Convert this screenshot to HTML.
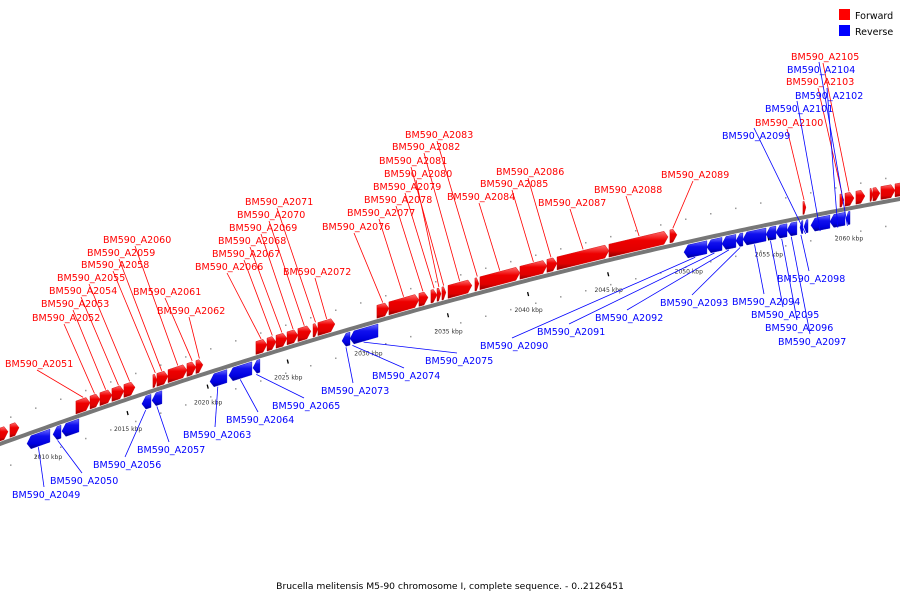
<!DOCTYPE html>
<html><head><meta charset="utf-8"><style>
body{margin:0;background:#fff;}
svg{display:block;font-family:"DejaVu Sans","Liberation Sans",sans-serif;}
</style></head><body>
<svg id="chart" width="900" height="600" viewBox="0 0 900 600">
<defs>
<linearGradient id="gr" x1="0" y1="0" x2="0" y2="1"><stop offset="0" stop-color="#ff7070"/><stop offset="0.35" stop-color="#ee0000"/><stop offset="0.75" stop-color="#e00000"/><stop offset="1" stop-color="#8a0000"/></linearGradient>
<linearGradient id="gb" x1="0" y1="0" x2="0" y2="1"><stop offset="0" stop-color="#7070ff"/><stop offset="0.35" stop-color="#1010ee"/><stop offset="0.75" stop-color="#0000e0"/><stop offset="1" stop-color="#00008a"/></linearGradient>
</defs>
<g id="ticks"></g>
<path id="backbone" fill="none" stroke="#777" stroke-width="4"></path>
<g id="genes"></g>
<g id="labels"></g>
<g>
<rect x="839" y="9" width="11" height="11" fill="#f00"/>
<text x="855" y="19" font-size="9.5" fill="#000">Forward</text>
<rect x="839" y="25" width="11" height="11" fill="#00f"/>
<text x="855" y="35" font-size="9.5" fill="#000">Reverse</text>
</g>
<text x="450" y="589" text-anchor="middle" font-size="9.2" fill="#000">Brucella melitensis M5-90 chromosome I, complete sequence. - 0..2126451</text>
</svg>
<script>
const fwdStart=[2007.00,2007.62,2011.74,2012.62,2013.24,2013.99,2014.74,2016.55,2016.80,2017.49,2018.67,2019.23,2022.98,2023.67,2024.23,2024.92,2025.60,2026.54,2026.85,2030.53,2031.28,2033.15,2033.90,2034.28,2034.59,2034.97,2036.65,2036.96,2039.46,2041.14,2041.77,2045.01,2048.82,2057.12,2059.43,2059.75,2060.43,2061.31,2061.49,2061.99,2062.87];
const fwdEnd=[2007.50,2008.19,2012.62,2013.24,2013.99,2014.74,2015.43,2016.80,2017.49,2018.67,2019.23,2019.67,2023.67,2024.23,2024.92,2025.60,2026.41,2026.85,2027.91,2031.28,2033.15,2033.72,2034.28,2034.53,2034.84,2036.46,2036.90,2039.46,2041.14,2041.77,2045.01,2048.70,2049.26,2057.31,2059.68,2060.31,2060.99,2061.49,2061.93,2062.87,2063.60];
const revStart=[2008.69,2010.31,2010.87,2015.86,2016.49,2020.11,2021.29,2022.79,2028.35,2028.85,2049.70,2051.13,2052.07,2052.94,2053.38,2054.82,2055.44,2056.13,2056.94,2057.19,2057.62,2058.81,2059.81];
const revEnd=[2010.12,2010.81,2011.93,2016.43,2017.11,2021.17,2022.73,2023.23,2028.85,2030.60,2051.13,2052.07,2052.94,2053.38,2054.82,2055.44,2056.13,2056.75,2057.12,2057.44,2058.81,2059.75,2060.06];
const tickKbp=[2010,2015,2020,2025,2030,2035,2040,2045,2050,2055,2060];
const labelText=["BM590_A2051","BM590_A2052","BM590_A2053","BM590_A2054","BM590_A2055","BM590_A2058","BM590_A2059","BM590_A2060","BM590_A2061","BM590_A2062","BM590_A2066","BM590_A2067","BM590_A2068","BM590_A2069","BM590_A2070","BM590_A2071","BM590_A2072","BM590_A2076","BM590_A2077","BM590_A2078","BM590_A2079","BM590_A2080","BM590_A2081","BM590_A2082","BM590_A2083","BM590_A2084","BM590_A2085","BM590_A2086","BM590_A2087","BM590_A2088","BM590_A2089","BM590_A2100","BM590_A2103","BM590_A2105",
"BM590_A2049","BM590_A2050","BM590_A2056","BM590_A2057","BM590_A2063","BM590_A2064","BM590_A2065","BM590_A2073","BM590_A2074","BM590_A2075","BM590_A2090","BM590_A2091","BM590_A2092","BM590_A2093","BM590_A2094","BM590_A2095","BM590_A2096","BM590_A2097","BM590_A2098","BM590_A2099","BM590_A2101","BM590_A2102","BM590_A2104"];
const labelStrand=[1,1,1,1,1,1,1,1,1,1,1,1,1,1,1,1,1,1,1,1,1,1,1,1,1,1,1,1,1,1,1,1,1,1,
-1,-1,-1,-1,-1,-1,-1,-1,-1,-1,-1,-1,-1,-1,-1,-1,-1,-1,-1,-1,-1,-1,-1];
const labelTarget=[2012.2,2012.9,2013.6,2014.4,2015.1,2016.7,2017.1,2018.1,2019.0,2019.45,2023.3,2024.0,2024.6,2025.3,2026.0,2026.7,2027.4,2030.9,2032.2,2033.4,2034.1,2034.4,2034.7,2035.7,2036.8,2038.2,2040.3,2041.4,2043.4,2046.9,2049.0,2057.2,2059.55,2060.0,
2009.4,2010.6,2016.1,2016.8,2020.6,2022.0,2023.0,2028.6,2029.0,2029.7,2050.4,2051.6,2052.5,2053.2,2054.1,2055.1,2055.8,2056.4,2057.0,2057.3,2058.2,2059.3,2059.9];
// layout positions of label text (not data)
const labelPos=[[5,367],[32,321],[41,307],[49,294],[57,281],[81,268],[87,256],[103,243],[133,295],[157,314],[195,270],[212,257],[218,244],[229,231],[237,218],[245,205],[283,275],[322,230],[347,216],[364,203],[373,190],[384,177],[379,164],[392,150],[405,138],[447,200],[480,187],[496,175],[538,206],[594,193],[661,178],[755,126],[786,85],[791,60],
[12,498],[50,484],[93,468],[137,453],[183,438],[226,423],[272,409],[321,394],[372,379],[425,364],[480,349],[537,335],[595,321],[660,306],[732,305],[751,318],[765,331],[778,345],[777,282],[722,139],[765,112],[795,99],[787,73]];

const NS="http://www.w3.org/2000/svg";
function X(k){return 48+(k-2010)*16.02;}
function Y(x){return 444-0.364*x+0.000102*x*x;}
function mk(tag,attrs,parent){const e=document.createElementNS(NS,tag);for(const a in attrs)e.setAttribute(a,attrs[a]);parent.appendChild(e);return e;}
let d="";for(let x=-10;x<=910;x+=5){d+=(x===-10?"M":"L")+x+" "+Y(x).toFixed(2)+" ";}
document.getElementById("backbone").setAttribute("d",d);
const ticks=document.getElementById("ticks");
for(let x=10;x<900;x+=25){
  [-24,24].forEach(function(o){
    const c=mk("rect",{x:x,y:(Y(x)+o).toFixed(1),width:1.5,height:1.5,fill:"#999"},ticks);
    
    
  });
}
tickKbp.forEach(function(k){
  const x=X(k);
  const t=mk("text",{x:x,y:(Y(x)+32).toFixed(1),"font-size":"6","text-anchor":"middle",fill:"#333"},ticks);
  t.textContent=k+" kbp";
  
  
  const m=mk("line",{x1:x-1,y1:Y(x)+12,x2:x,y2:Y(x)+16,stroke:"#000","stroke-width":1.3},ticks);
  
  
});
const genes=document.getElementById("genes");
function gene(k1,k2,strand){
  const x1=X(k1),x2=X(k2);
  const a=Math.min(4,(x2-x1)*0.6);
  const o1=strand>0?-16:3,o2=strand>0?-3:16,om=(o1+o2)/2;
  let pts;
  if(strand>0){
    pts=[[x1,Y(x1)+o1],[x2-a,Y(x2-a)+o1],[x2,Y(x2)+om],[x2-a,Y(x2-a)+o2],[x1,Y(x1)+o2]];
  }else{
    pts=[[x1+a,Y(x1+a)+o1],[x2,Y(x2)+o1],[x2,Y(x2)+o2],[x1+a,Y(x1+a)+o2],[x1,Y(x1)+om]];
  }
  const p=mk("polygon",{points:pts.map(q=>q[0].toFixed(1)+","+q[1].toFixed(1)).join(" "),fill:strand>0?"url(#gr)":"url(#gb)",stroke:strand>0?"#c00":"#00c","stroke-width":0.4},genes);
  
  
}
fwdStart.forEach((s,i)=>gene(s,fwdEnd[i],1));
revStart.forEach((s,i)=>gene(s,revEnd[i],-1));
const labels=document.getElementById("labels");
labelText.forEach(function(t,i){
  const st=labelStrand[i],col=st>0?"#f00":"#00f";
  const lx=labelPos[i][0],ly=labelPos[i][1];
  const tx=X(labelTarget[i]),ty=Y(tx)+(st>0?-17:17);
  const sx=lx+32,sy=st>0?ly+3:ly-11;
  const l=mk("line",{x1:sx,y1:sy,x2:tx.toFixed(1),y2:ty.toFixed(1),stroke:col,"stroke-width":0.8},labels);
  
  
  const e=mk("text",{x:lx,y:ly,"font-size":"9.5",fill:col},labels);
  e.textContent=t;
  
  
});
</script>
</body></html>
